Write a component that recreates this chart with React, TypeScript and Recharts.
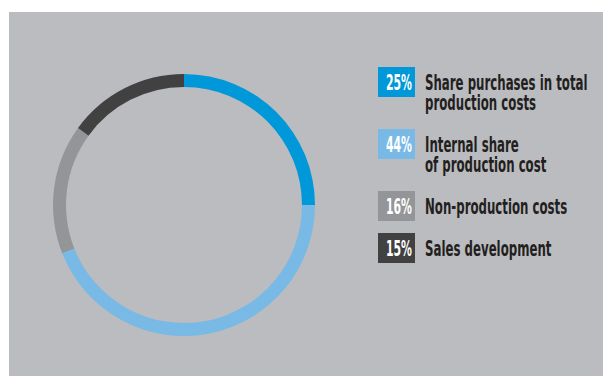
import { PieChart, Pie, Cell, Legend } from "recharts";

const categories = [
  "Share purchases in total production costs",
  "Internal share of production cost",
  "Non-production costs",
  "Sales development",
];
const labelLines = [
  ["Share purchases in total", "production costs"],
  ["Internal share", "of production cost"],
  ["Non-production costs"],
  ["Sales development"],
];
const shares = [25, 44, 16, 15];
const colors = ["#0098d8", "#79b9e5", "#939598", "#414142"];

const data = categories.map((name, i) => ({ name, value: shares[i] }));

const FONT = "'Liberation Sans Narrow', 'DejaVu Sans Condensed', 'Liberation Sans', sans-serif";
const SQUEEZE = 0.595;

function ShareLegend() {
  let y = 0;
  const rows = labelLines.map((lines, i) => {
    const top = y;
    y += lines.length * 20 + 22;
    return { top, lines, i };
  });
  return (
    <svg width={232} height={y} style={{ overflow: "visible" }}>
      {rows.map(({ top, lines, i }) => (
        <g key={i}>
          <rect x={0} y={top} width={37} height={30} fill={colors[i]} />
          <text
            transform={`translate(34, ${top + 23}) scale(0.55, 1)`}
            textAnchor="end"
            fill="#fff"
            fontFamily={FONT}
            fontWeight="bold"
            fontSize={22}
          >
            {shares[i]}%
          </text>
          <text
            transform={`translate(47, ${top + 23}) scale(${SQUEEZE}, 1)`}
            fill="#231f20"
            fontFamily={FONT}
            fontWeight="bold"
            fontSize={22}
          >
            {lines.map((line, j) => (
              <tspan key={j} x={0} dy={j === 0 ? 0 : 19.5}>
                {line}
              </tspan>
            ))}
          </text>
        </g>
      ))}
    </svg>
  );
}

export default function App() {
  return (
    <div style={{ marginLeft: 1, marginTop: 4, width: 602, height: 364, background: "#bbbcbf" }}>
      <PieChart width={602} height={364} margin={{ top: 0, right: 0, bottom: 0, left: 0 }}>
        <Pie
          data={data}
          dataKey="value"
          nameKey="name"
          cx={175}
          cy={193}
          innerRadius={118}
          outerRadius={131}
          startAngle={90}
          endAngle={-270}
          stroke="none"
          isAnimationActive={false}
        >
          {data.map((d, i) => (
            <Cell key={d.name} fill={colors[i]} />
          ))}
        </Pie>
        <Legend
          layout="vertical"
          align="right"
          verticalAlign="top"
          content={() => <ShareLegend />}
          wrapperStyle={{ position: "absolute", left: 369, top: 55, width: 232 }}
        />
      </PieChart>
    </div>
  );
}
